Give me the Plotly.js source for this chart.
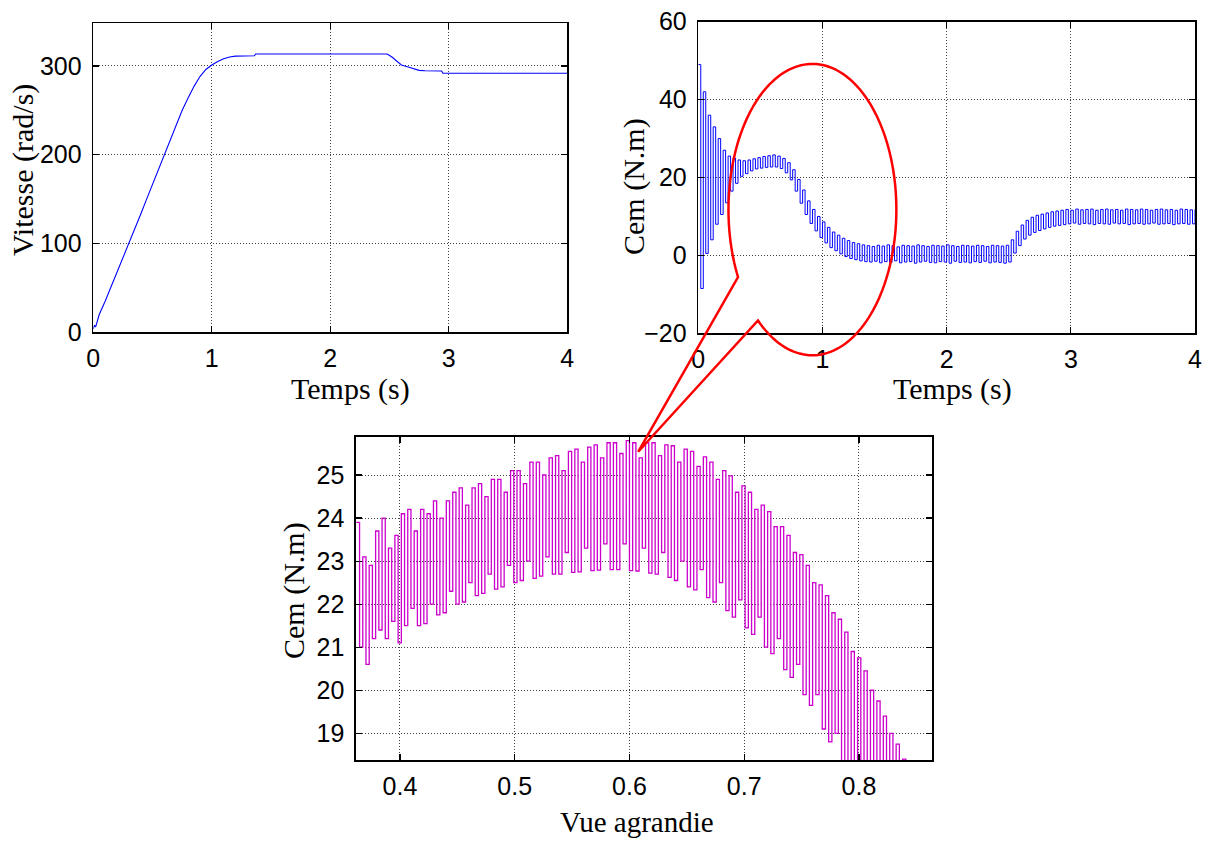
<!DOCTYPE html>
<html>
<head>
<meta charset="utf-8">
<script src="https://cdn.plot.ly/plotly-3.0.1.min.js"></script>
<style>
html,body{margin:0;padding:0;background:#ffffff;}
#chart{width:1206px;height:841px;}
</style>
</head>
<body>
<div id="chart"></div>
<script>
// ---------------- DATA ----------------
// Speed (rad/s) versus time (s)
const speedTime  = [0, 0.01, 0.02, 0.05, 0.1, 0.15, 0.2, 0.25, 0.3, 0.35, 0.4, 0.45, 0.5, 0.55, 0.6, 0.65, 0.7, 0.75, 0.8, 0.85, 0.9, 0.95, 1.0, 1.05, 1.1, 1.15, 1.2, 1.3, 1.36, 1.37, 2.48, 2.52, 2.56, 2.6, 2.65, 2.7, 2.75, 2.8, 2.9, 2.94, 2.95, 4.0];
const speedValue = [4, 8, 6, 20, 35, 51, 67, 83, 99, 116, 133, 150, 167, 184, 201, 218, 234, 250, 264, 277, 288, 296, 301, 305, 308, 310, 311, 311.5, 311.5, 313.5, 313.5, 310, 305, 301, 299, 297, 295, 294.5, 294.3, 294.3, 291.8, 291.8];

// Electromagnetic torque Cem (N.m), full run: ripple peaks / troughs
const cemStart = 0;      // s, time of first ripple peak
const cemStep  = 0.04;   // s, ripple period as drawn
const cemHigh = [49, 42, 36, 33, 30, 27, 25.5, 25, 24.5, 24.3, 24.5, 24.8, 25.1, 25.4, 25.6, 25.8, 25.5, 24.9, 23.8, 22.0, 19.5, 16.8, 14.0, 11.8, 10.0, 8.6, 7.2, 6.0, 5.2, 4.4, 3.8, 3.3, 3.0, 2.7,
  2.5, 2.3, 2.6, 2.4, 2.7, 2.5, 2.2, 2.6, 2.5, 2.4, 2.7, 2.5, 2.3, 2.6, 2.5, 2.4, 2.7, 2.5, 2.3, 2.6, 2.5, 2.4, 2.6, 2.5, 2.3, 2.6, 2.5, 2.4, 2.6,
  4.0, 6.2, 7.8, 9.0, 9.8, 10.3, 10.6, 10.9, 11.2, 11.4, 11.6,
  11.8, 11.6, 11.9, 11.7, 11.8, 11.9, 11.6, 11.8, 11.9, 11.7, 11.8, 11.6, 11.9, 11.8, 11.7, 11.9, 11.8, 11.6, 11.8, 11.9, 11.7, 11.8, 11.6, 11.9, 11.8, 11.7, 11.8];
const cemLow = [-8.5, 0.5, 4, 8, 10.5, 13.5, 16.5, 18.5, 20.3, 21, 21.7, 22.2, 22.4, 22.6, 22.7, 22.7, 22.3, 21.2, 19.4, 16.5, 13.4, 10.5, 8.2, 6.3, 4.6, 3.2, 2.0, 1.2, 0.4, -0.3, -0.8, -1.1, -1.4, -1.6,
  -1.7, -1.5, -1.9, -1.6, -1.8, -1.4, -1.9, -1.7, -1.6, -2.0, -1.7, -1.5, -1.8, -1.9, -1.6, -1.7, -2.0, -1.5, -1.8, -1.7, -1.9, -1.6, -1.8, -1.5, -1.9, -1.7, -1.8, -2.0, -1.7,
  0.6, 2.5, 4.2, 5.2, 5.9, 6.4, 6.8, 7.2, 7.5, 7.7, 7.9,
  8.1, 8.3, 8.0, 8.2, 8.1, 7.9, 8.2, 8.1, 8.0, 8.3, 8.1, 8.2, 7.9, 8.1, 8.2, 8.0, 8.1, 8.3, 8.0, 8.1, 8.2, 7.9, 8.1, 8.2, 8.0, 8.1, 8.1];

// Zoomed view (Vue agrandie) of Cem between 0.36 s and 0.84 s
const zoomStart = 0.362;
const zoomStep  = 0.0056;
const zoomHigh = [23.9, 23.1, 22.9, 23.7, 24.0, 23.3, 23.6, 24.1, 24.2, 23.7, 24.2, 24.1, 24.4, 24.0, 24.4, 24.6, 24.7, 24.3, 24.7, 24.8,
  24.5, 24.9, 24.9, 24.6, 25.1, 25.1, 24.8, 25.3, 25.3, 25.0, 25.4, 25.45, 25.1, 25.55, 25.6, 25.3, 25.65, 25.7, 25.4, 25.75,
  25.75, 25.5, 25.8, 25.75, 25.4, 25.75, 25.75, 25.45, 25.7, 25.68, 25.3, 25.6, 25.55, 25.2, 25.42, 25.3, 24.9, 25.1, 24.98, 24.6,
  24.75, 24.6, 24.2, 24.3, 24.15, 23.8, 23.8, 23.6, 23.2, 23.15, 22.9, 22.5, 22.45, 22.2, 21.8, 21.65, 21.35, 20.9, 20.75, 20.45,
  20.0, 19.75, 19.4, 19.0, 18.75, 18.4];
const zoomLow = [21.0, 20.6, 21.2, 21.4, 21.2, 21.6, 21.1, 21.5, 21.9, 21.5, 21.55, 22.0, 21.75, 21.8, 22.3, 22.0, 22.05, 22.5, 22.2, 22.25,
  22.7, 22.35, 22.4, 22.9, 22.5, 22.55, 23.0, 22.6, 22.65, 23.1, 22.7, 22.7, 23.2, 22.74, 22.75, 23.3, 22.78, 22.79, 23.4, 22.8,
  22.8, 23.4, 22.78, 22.77, 23.3, 22.72, 22.7, 23.2, 22.62, 22.55, 23.0, 22.4, 22.33, 22.8, 22.15, 22.05, 22.5, 21.85, 21.7, 22.1,
  21.45, 21.3, 21.7, 21.0, 20.85, 21.2, 20.48, 20.3, 20.6, 19.9, 19.65, 19.9, 19.1, 18.8, 19.0, 18.2, 17.9, 18.2, 17.3, 17.0,
  17.3, 16.4, 16.1, 16.4, 15.5, 15.2];

// Tick labels
const speedTicks = [0, 100, 200, 300];
const timeTicks  = [0, 1, 2, 3, 4];
const cemTicks   = [-20, 0, 20, 40, 60];
const zoomXTicks = [0.4, 0.5, 0.6, 0.7, 0.8];
const zoomYTicks = [19, 20, 21, 22, 23, 24, 25];

// Texts
const labelSpeed = 'Vitesse (rad/s)';
const labelTime  = 'Temps (s)';
const labelCem   = 'Cem (N.m)';
const labelZoom  = 'Vue agrandie';

// ---------------- BUILD ----------------
function ripple(t0, dt, hi, lo) {
  const x = [], y = [];
  for (let k = 0; k < hi.length; k++) {
    x.push(t0 + k * dt);          y.push(hi[k]);
    x.push(t0 + k * dt + dt / 2); y.push(lo[k]);
  }
  return {x, y};
}

const W = 1206, H = 841;
function dom(l, r, t, b) { return {x: [l / W, r / W], y: [1 - b / H, 1 - t / H]}; }
const box1 = dom(93.3, 567.3, 23.3, 332.3);
const box2 = dom(698.3, 1195, 21.7, 333.3);
const box3 = dom(356, 932.3, 436.7, 760);

const range1 = {x: [0, 4], y: [0, 348]};
const range2 = {x: [0, 4], y: [-20, 60]};
const range3 = {x: [0.3617, 0.8639], y: [18.38, 25.89]};

const tickFont = {family: 'Liberation Sans, Arial, sans-serif', size: 25, color: '#000'};
const titleFont = {family: 'Liberation Serif, Times New Roman, serif', size: 30, color: '#000'};

function axis(domain, range, ticks, isX) {
  return {
    domain: domain, range: range, tickvals: ticks, autorange: false,
    showline: true, linecolor: '#000', linewidth: 1.6, mirror: 'allticks',
    ticks: 'inside', ticklen: 6, tickwidth: 1.2, tickcolor: '#000',
    showgrid: true, gridcolor: '#404040', gridwidth: 1, griddash: '1px,2px',
    zeroline: false, tickfont: tickFont, automargin: false,
    ticklabelstandoff: isX ? 3 : 5, fixedrange: true
  };
}

const cemRipple  = ripple(cemStart, cemStep, cemHigh, cemLow);
const zoomRipple = ripple(zoomStart, zoomStep, zoomHigh, zoomLow);

const traces = [
  {x: speedTime, y: speedValue, xaxis: 'x', yaxis: 'y', type: 'scatter', mode: 'lines',
   line: {color: '#0000ff', width: 1.1}, hoverinfo: 'skip'},
  {x: cemRipple.x, y: cemRipple.y, xaxis: 'x2', yaxis: 'y2', type: 'scatter', mode: 'lines',
   line: {color: '#0000ff', width: 1, shape: 'hv'}, hoverinfo: 'skip'},
  {x: zoomRipple.x, y: zoomRipple.y, xaxis: 'x3', yaxis: 'y3', type: 'scatter', mode: 'lines',
   line: {color: '#cc00cc', width: 1.3, shape: 'hv'}, hoverinfo: 'skip'}
];

// Callout (red ellipse on the torque plot + pointer to the zoomed view)
function toPaper(box, rng, x, y) {
  return [box.x[0] + (x - rng.x[0]) / (rng.x[1] - rng.x[0]) * (box.x[1] - box.x[0]),
          box.y[0] + (y - rng.y[0]) / (rng.y[1] - rng.y[0]) * (box.y[1] - box.y[0])];
}
const ell = {cx: 0.919, cy: 11.76, rx: 0.676, ry: 37.4, a0: 152.4, a1: 490.4};
const tip = toPaper(box3, range3, 0.6076, 25.54);
let path = 'M ' + tip[0] + ',' + tip[1];
for (let i = 0; i <= 160; i++) {
  const a = (ell.a0 + (ell.a1 - ell.a0) * i / 160) * Math.PI / 180;
  const p = toPaper(box2, range2, ell.cx + ell.rx * Math.cos(a), ell.cy - ell.ry * Math.sin(a));
  path += ' L ' + p[0] + ',' + p[1];
}
path += ' L ' + tip[0] + ',' + tip[1];

function ann(text, px, py, rot, size) {
  const f = Object.assign({}, titleFont, size ? {size: size} : {});
  return {text: text, xref: 'paper', yref: 'paper', x: px / W, y: 1 - py / H,
          xanchor: 'center', yanchor: 'middle', showarrow: false, textangle: rot || 0,
          font: f, borderpad: 0};
}

const layout = {
  width: W, height: H, margin: {l: 0, r: 0, t: 0, b: 0},
  paper_bgcolor: '#fff', plot_bgcolor: '#fff', showlegend: false,
  xaxis:  axis(box1.x, range1.x, timeTicks, true),
  yaxis:  axis(box1.y, range1.y, speedTicks, false),
  xaxis2: Object.assign(axis(box2.x, range2.x, timeTicks, true), {anchor: 'y2'}),
  yaxis2: Object.assign(axis(box2.y, range2.y, cemTicks, false), {anchor: 'x2'}),
  xaxis3: Object.assign(axis(box3.x, range3.x, zoomXTicks, true), {anchor: 'y3'}),
  yaxis3: Object.assign(axis(box3.y, range3.y, zoomYTicks, false), {anchor: 'x3'}),
  shapes: [{type: 'path', xref: 'paper', yref: 'paper', path: path, layer: 'above',
            line: {color: '#ff0000', width: 2.5}, fillcolor: 'rgba(0,0,0,0)'}],
  annotations: [
    ann(labelSpeed, 23, 170, -90),
    ann(labelTime, 350, 389),
    ann(labelCem, 634, 187, -90),
    ann(labelTime, 952, 389),
    ann(labelCem, 294, 591, -90),
    ann(labelZoom, 637, 822, 0, 29)
  ]
};

Plotly.newPlot('chart', traces, layout, {displayModeBar: false, staticPlot: true});
</script>
</body>
</html>
